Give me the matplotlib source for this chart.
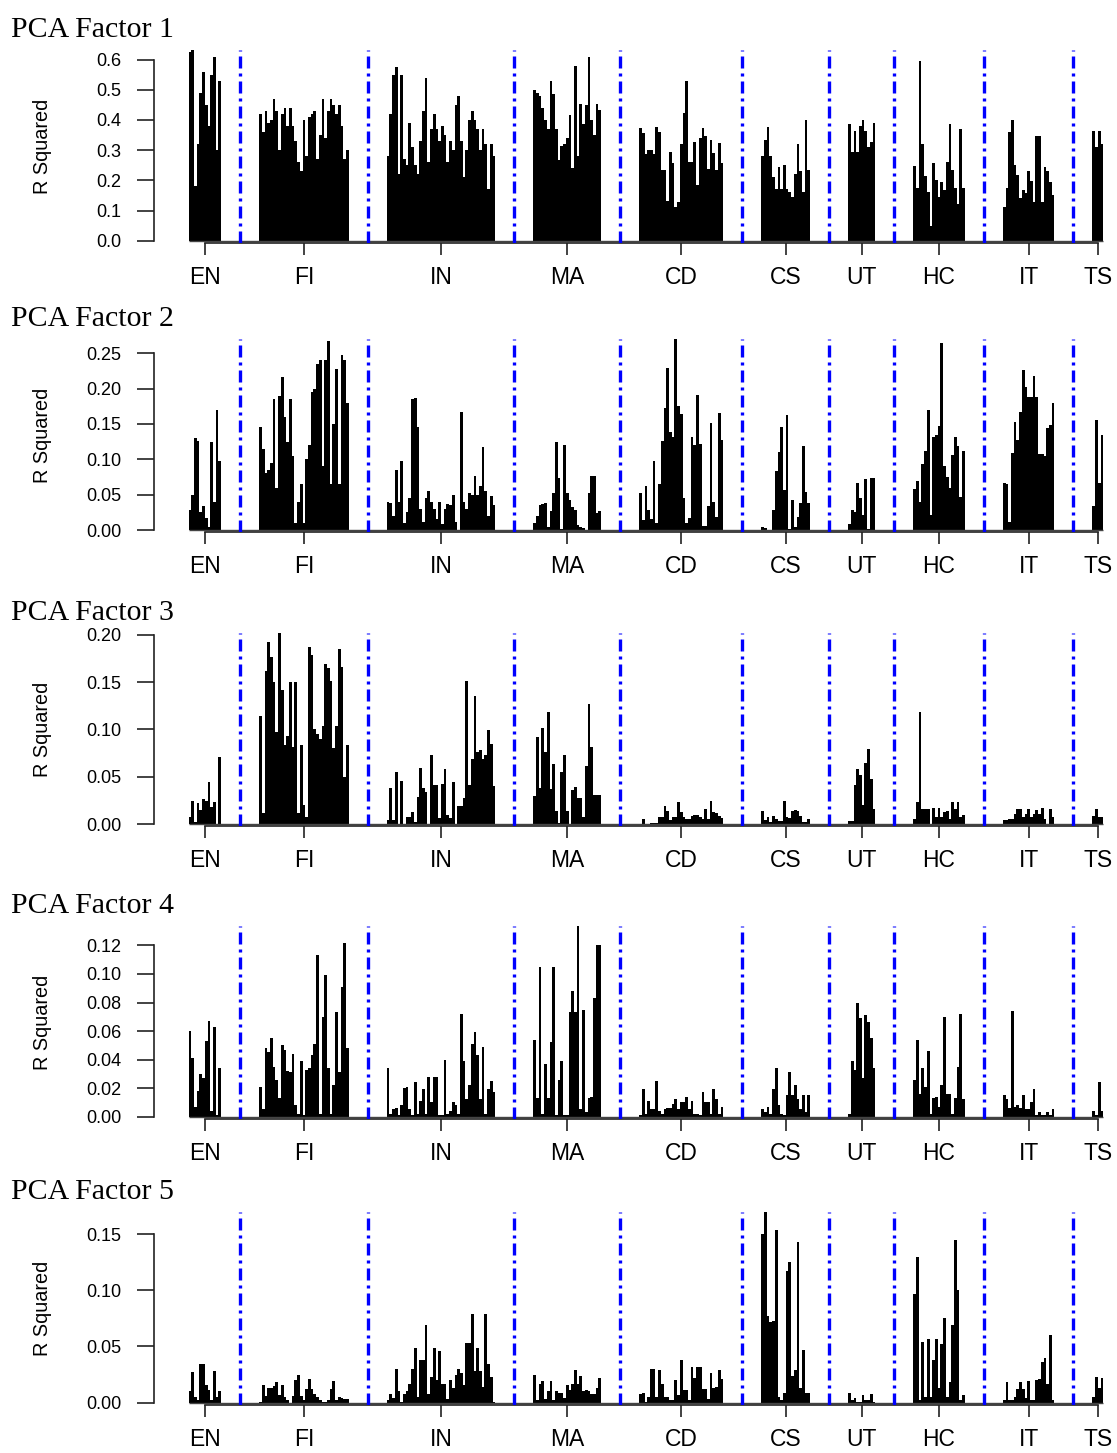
import numpy as np
import matplotlib
matplotlib.use("Agg")
import matplotlib.pyplot as plt

plt.rcParams['font.family'] = ['Liberation Sans', 'DejaVu Sans']

sectors = ["EN", "FI", "IN", "MA", "CD", "CS", "UT", "HC", "IT", "TS"]
titles = ["PCA Factor 1", "PCA Factor 2", "PCA Factor 3", "PCA Factor 4", "PCA Factor 5"]

# R squared of each stock on the factor, one list per sector (same order as sectors)
factor1 = [
    [0.625, 0.633, 0.18, 0.32, 0.49, 0.56, 0.45, 0.38, 0.55, 0.61, 0.30, 0.53],
    [0.42, 0.36, 0.43, 0.39, 0.40, 0.47, 0.43, 0.30, 0.42, 0.44, 0.38, 0.44, 0.38, 0.33, 0.26, 0.23, 0.40,
     0.28, 0.41, 0.42, 0.43, 0.27, 0.35, 0.47, 0.34, 0.43, 0.47, 0.45, 0.42, 0.45, 0.38, 0.27, 0.30],
    [0.28, 0.42, 0.55, 0.575, 0.22, 0.55, 0.27, 0.25, 0.39, 0.31, 0.25, 0.22, 0.33, 0.43, 0.54, 0.26, 0.37,
     0.42, 0.37, 0.33, 0.38, 0.35, 0.26, 0.33, 0.30, 0.45, 0.48, 0.33, 0.21, 0.30, 0.40, 0.43, 0.40, 0.37,
     0.30, 0.37, 0.32, 0.17, 0.32, 0.28],
    [0.50, 0.49, 0.48, 0.44, 0.40, 0.37, 0.53, 0.487, 0.37, 0.267, 0.313, 0.32, 0.34, 0.415, 0.24, 0.58,
     0.28, 0.454, 0.386, 0.449, 0.609, 0.40, 0.35, 0.454, 0.432],
    [0.374, 0.357, 0.287, 0.30, 0.30, 0.287, 0.377, 0.36, 0.234, 0.234, 0.13, 0.294, 0.256, 0.112, 0.127,
     0.32, 0.423, 0.53, 0.26, 0.26, 0.327, 0.184, 0.34, 0.374, 0.346, 0.236, 0.333, 0.29, 0.234, 0.322, 0.256],
    [0.28, 0.335, 0.377, 0.28, 0.21, 0.17, 0.245, 0.17, 0.25, 0.17, 0.16, 0.145, 0.22, 0.32, 0.23, 0.16,
     0.40, 0.235],
    [0.386, 0.294, 0.364, 0.294, 0.38, 0.40, 0.364, 0.31, 0.327, 0.39],
    [0.248, 0.173, 0.595, 0.319, 0.215, 0.162, 0.048, 0.259, 0.20, 0.146, 0.195, 0.168, 0.261, 0.386,
     0.234, 0.176, 0.123, 0.37, 0.176],
    [0.112, 0.173, 0.36, 0.40, 0.25, 0.217, 0.14, 0.168, 0.159, 0.23, 0.198, 0.129, 0.347, 0.347, 0.129,
     0.245, 0.23, 0.195, 0.151],
    [0.365, 0.31, 0.365, 0.32],
]

factor2 = [
    [0.029, 0.05, 0.13, 0.126, 0.025, 0.034, 0.017, 0.005, 0.125, 0.04, 0.17, 0.097],
    [0.145, 0.115, 0.08, 0.085, 0.095, 0.185, 0.06, 0.19, 0.217, 0.16, 0.125, 0.185, 0.105, 0.01, 0.04,
     0.065, 0.01, 0.10, 0.12, 0.195, 0.20, 0.235, 0.24, 0.09, 0.24, 0.267, 0.065, 0.15, 0.228, 0.065,
     0.247, 0.24, 0.18],
    [0.04, 0.038, 0.02, 0.085, 0.04, 0.097, 0.01, 0.025, 0.045, 0.185, 0.187, 0.145, 0.03, 0.012, 0.045,
     0.055, 0.04, 0.03, 0.015, 0.04, 0.008, 0.03, 0.037, 0.035, 0.05, 0.012, 0.0, 0.167, 0.04, 0.03,
     0.053, 0.05, 0.077, 0.05, 0.063, 0.117, 0.055, 0.02, 0.048, 0.035],
    [0.01, 0.02, 0.035, 0.037, 0.038, 0.005, 0.027, 0.053, 0.124, 0.073, 0.001, 0.12, 0.053, 0.043, 0.032,
     0.028, 0.007, 0.005, 0.003, 0.0, 0.053, 0.077, 0.077, 0.024, 0.027],
    [0.052, 0.014, 0.063, 0.029, 0.015, 0.097, 0.01, 0.065, 0.126, 0.172, 0.229, 0.139, 0.132, 0.27, 0.175,
     0.164, 0.046, 0.01, 0.017, 0.131, 0.12, 0.191, 0.122, 0.006, 0.006, 0.034, 0.152, 0.04, 0.018, 0.166,
     0.127],
    [0.005, 0.003, 0.0, 0.0, 0.029, 0.084, 0.111, 0.146, 0.057, 0.163, 0.001, 0.043, 0.005, 0.018, 0.038,
     0.119, 0.054, 0.038],
    [0.008, 0.029, 0.025, 0.067, 0.045, 0.021, 0.072, 0.001, 0.074, 0.074],
    [0.058, 0.07, 0.039, 0.093, 0.112, 0.17, 0.021, 0.131, 0.134, 0.147, 0.265, 0.09, 0.075, 0.06, 0.106,
     0.132, 0.119, 0.047, 0.112],
    [0.066, 0.065, 0.012, 0.109, 0.153, 0.127, 0.167, 0.226, 0.202, 0.188, 0.188, 0.218, 0.188, 0.108,
     0.108, 0.104, 0.144, 0.149, 0.18],
    [0.034, 0.156, 0.067, 0.134],
]

factor3 = [
    [0.008, 0.024, 0.002, 0.022, 0.015, 0.026, 0.024, 0.044, 0.018, 0.023, 0.0, 0.071],
    [0.114, 0.012, 0.162, 0.192, 0.177, 0.15, 0.097, 0.202, 0.142, 0.084, 0.093, 0.15, 0.081, 0.15, 0.012,
     0.084, 0.02, 0.007, 0.187, 0.179, 0.10, 0.095, 0.09, 0.104, 0.169, 0.165, 0.151, 0.08, 0.104, 0.185,
     0.166, 0.05, 0.084],
    [0.004, 0.038, 0.004, 0.055, 0.0, 0.046, 0.0, 0.007, 0.007, 0.013, 0.002, 0.029, 0.059, 0.038, 0.034,
     0.0, 0.073, 0.041, 0.041, 0.006, 0.042, 0.058, 0.01, 0.006, 0.044, 0.0, 0.019, 0.019, 0.028, 0.151,
     0.041, 0.069, 0.135, 0.076, 0.078, 0.069, 0.073, 0.099, 0.085, 0.04],
    [0.03, 0.092, 0.038, 0.102, 0.076, 0.119, 0.037, 0.064, 0.014, 0.001, 0.055, 0.073, 0.014, 0.0, 0.036,
     0.039, 0.028, 0.028, 0.007, 0.061, 0.127, 0.081, 0.031, 0.031, 0.031],
    [0.0, 0.005, 0.0, 0.0, 0.001, 0.001, 0.001, 0.007, 0.007, 0.019, 0.014, 0.004, 0.007, 0.007, 0.023,
     0.013, 0.007, 0.005, 0.005, 0.009, 0.01, 0.01, 0.007, 0.005, 0.016, 0.005, 0.024, 0.013, 0.012, 0.009,
     0.006],
    [0.014, 0.004, 0.008, 0.002, 0.009, 0.005, 0.003, 0.003, 0.024, 0.007, 0.006, 0.014, 0.015, 0.014,
     0.009, 0.002, 0.002, 0.005],
    [0.003, 0.003, 0.041, 0.058, 0.052, 0.02, 0.065, 0.079, 0.048, 0.016],
    [0.005, 0.023, 0.118, 0.016, 0.016, 0.016, 0.0, 0.017, 0.007, 0.017, 0.008, 0.013, 0.014, 0.005, 0.023,
     0.016, 0.023, 0.007, 0.01],
    [0.004, 0.004, 0.005, 0.005, 0.011, 0.016, 0.016, 0.008, 0.011, 0.016, 0.007, 0.011, 0.015, 0.011,
     0.017, 0.005, 0.0, 0.016, 0.007],
    [0.009, 0.016, 0.007, 0.007],
]

factor4 = [
    [0.06, 0.041, 0.007, 0.018, 0.03, 0.027, 0.053, 0.067, 0.004, 0.063, 0.001, 0.034],
    [0.021, 0.005, 0.048, 0.045, 0.055, 0.035, 0.026, 0.013, 0.05, 0.047, 0.032, 0.031, 0.044, 0.008,
     0.002, 0.039, 0.001, 0.033, 0.034, 0.043, 0.051, 0.113, 0.002, 0.07, 0.099, 0.034, 0.002, 0.022,
     0.073, 0.031, 0.091, 0.122, 0.048],
    [0.034, 0.002, 0.005, 0.006, 0.001, 0.008, 0.02, 0.021, 0.005, 0.001, 0.024, 0.002, 0.011, 0.019,
     0.002, 0.028, 0.01, 0.028, 0.028, 0.001, 0.001, 0.04, 0.002, 0.004, 0.01, 0.008, 0.002, 0.072, 0.039,
     0.012, 0.022, 0.051, 0.059, 0.043, 0.012, 0.049, 0.002, 0.019, 0.025, 0.017],
    [0.054, 0.013, 0.105, 0.002, 0.037, 0.013, 0.052, 0.105, 0.001, 0.026, 0.039, 0.001, 0.001, 0.073,
     0.088, 0.073, 0.134, 0.005, 0.075, 0.003, 0.013, 0.014, 0.083, 0.12, 0.12],
    [0.001, 0.019, 0.002, 0.011, 0.005, 0.005, 0.025, 0.004, 0.002, 0.005, 0.006, 0.006, 0.009, 0.012,
     0.005, 0.01, 0.01, 0.014, 0.005, 0.011, 0.002, 0.002, 0.001, 0.017, 0.01, 0.01, 0.002, 0.019, 0.012,
     0.002, 0.007],
    [0.005, 0.003, 0.007, 0.002, 0.019, 0.034, 0.008, 0.002, 0.001, 0.015, 0.031, 0.015, 0.022, 0.012,
     0.005, 0.015, 0.003, 0.015],
    [0.002, 0.039, 0.033, 0.08, 0.069, 0.027, 0.071, 0.066, 0.055, 0.034],
    [0.026, 0.054, 0.016, 0.034, 0.021, 0.046, 0.002, 0.013, 0.014, 0.007, 0.022, 0.07, 0.016, 0.016,
     0.002, 0.013, 0.035, 0.072, 0.012],
    [0.015, 0.012, 0.006, 0.074, 0.007, 0.008, 0.006, 0.015, 0.005, 0.005, 0.01, 0.019, 0.001, 0.003,
     0.001, 0.001, 0.003, 0.001, 0.005],
    [0.004, 0.001, 0.024, 0.004],
]

factor5 = [
    [0.01, 0.027, 0.005, 0.002, 0.034, 0.034, 0.016, 0.011, 0.002, 0.028, 0.005, 0.01],
    [0.001, 0.016, 0.006, 0.013, 0.013, 0.015, 0.018, 0.007, 0.016, 0.005, 0.002, 0.0, 0.006, 0.02, 0.025,
     0.006, 0.002, 0.012, 0.021, 0.012, 0.008, 0.005, 0.002, 0.001, 0.001, 0.002, 0.012, 0.019, 0.002,
     0.005, 0.004, 0.003, 0.003],
    [0.002, 0.008, 0.004, 0.03, 0.01, 0.001, 0.008, 0.01, 0.017, 0.03, 0.049, 0.005, 0.038, 0.038, 0.069,
     0.008, 0.023, 0.049, 0.02, 0.046, 0.017, 0.017, 0.003, 0.02, 0.013, 0.025, 0.03, 0.026, 0.016, 0.053,
     0.053, 0.079, 0.028, 0.049, 0.028, 0.014, 0.079, 0.034, 0.023, 0.001],
    [0.025, 0.002, 0.017, 0.019, 0.003, 0.01, 0.019, 0.002, 0.01, 0.009, 0.009, 0.004, 0.016, 0.011, 0.017,
     0.029, 0.017, 0.024, 0.01, 0.011, 0.01, 0.008, 0.008, 0.013, 0.022],
    [0.008, 0.009, 0.001, 0.005, 0.03, 0.03, 0.005, 0.029, 0.017, 0.005, 0.005, 0.002, 0.002, 0.02, 0.007,
     0.038, 0.011, 0.011, 0.002, 0.032, 0.022, 0.032, 0.032, 0.012, 0.012, 0.003, 0.026, 0.013, 0.014,
     0.029, 0.021],
    [0.15, 0.17, 0.077, 0.072, 0.073, 0.154, 0.005, 0.002, 0.009, 0.117, 0.125, 0.024, 0.029, 0.143, 0.013,
     0.047, 0.009, 0.009],
    [0.009, 0.002, 0.004, 0.001, 0.001, 0.007, 0.002, 0.002, 0.008, 0.001],
    [0.097, 0.13, 0.002, 0.054, 0.005, 0.057, 0.005, 0.038, 0.057, 0.013, 0.052, 0.075, 0.005, 0.018, 0.069,
     0.145, 0.10, 0.002, 0.007],
    [0.002, 0.018, 0.002, 0.002, 0.005, 0.012, 0.018, 0.012, 0.004, 0.019, 0.002, 0.002, 0.02, 0.021, 0.036,
     0.04, 0.017, 0.06, 0.002],
    [0.005, 0.023, 0.013, 0.022],
]

yticks = [
    [0.0, 0.1, 0.2, 0.3, 0.4, 0.5, 0.6],
    [0.0, 0.05, 0.10, 0.15, 0.20, 0.25],
    [0.0, 0.05, 0.10, 0.15, 0.20],
    [0.0, 0.02, 0.04, 0.06, 0.08, 0.10, 0.12],
    [0.0, 0.05, 0.10, 0.15],
]
ytick_fmt = ["%.1f", "%.2f", "%.2f", "%.2f", "%.2f"]

factors = [factor1, factor2, factor3, factor4, factor5]

# layout of the bar slots: sectors separated by an empty gap of bars
GAP = 14
counts = [len(g) for g in factor1]
for f in factors:
    assert [len(g) for g in f] == counts, [len(g) for g in f]
starts = np.concatenate([[0], np.cumsum(np.array(counts[:-1]) + GAP)])
centers = starts + np.array(counts) / 2.0
seps = starts[1:] - GAP / 2.0
total = starts[-1] + counts[-1]
xpos = np.concatenate([s + np.arange(n) for s, n in zip(starts, counts)])

W, H = 1117, 1453
fig = plt.figure(figsize=(W / 100, H / 100), dpi=100)

ax_left = 153.6      # px, y axis line
first_bar = 188.6    # px, left edge of first bar
slot_px = 2.714      # px per bar
ax_h = 193.0
bottoms = [242.6, 532.0, 826.0, 1118.5, 1404.6]

for k, f in enumerate(factors):
    b = bottoms[k]
    ax = fig.add_axes([ax_left / W, 1 - b / H, (W - ax_left) / W, ax_h / H])
    vals = np.concatenate([np.array(g, dtype=float) for g in f])
    ax.bar(xpos, vals, width=1.0, align='edge', color='black', linewidth=0, zorder=2)
    ax.hlines(0, 0, total, color='#444444', lw=1.0, zorder=2)
    for s in seps:
        ax.axvline(s, color='#0000ff', lw=2.4, linestyle=(0, (3.6, 1.5, 0.9, 1.5)),
                   dash_capstyle='butt', zorder=3)
    ymax = vals.max()
    ax.set_ylim(-0.01 * ymax, ymax)
    ax.set_xlim(-(first_bar - ax_left) / slot_px, (W - first_bar) / slot_px)

    for side in ['top', 'right']:
        ax.spines[side].set_visible(False)
    ax.spines['left'].set_bounds(0, yticks[k][-1])
    ax.spines['bottom'].set_bounds(centers[0], centers[-1])
    for side in ['left', 'bottom']:
        ax.spines[side].set_linewidth(1.2)
        ax.spines[side].set_color('#222222')

    ax.set_yticks(yticks[k])
    ax.set_yticklabels([ytick_fmt[k] % v for v in yticks[k]])
    ax.set_xticks(centers)
    ax.set_xticklabels(sectors)
    ax.tick_params(axis='y', length=12, width=1.2, pad=11, labelsize=13, color='#222222')
    ax.tick_params(axis='x', length=8.4, width=1.2, pad=8.5, labelsize=16.5, color='#222222')
    ax.patch.set_visible(False)

    fig.text(11 / W, 1 - (b - ax_h - 13) / H, titles[k], family='Liberation Serif',
             size=21.5, va='baseline', ha='left')
    fig.text(42.9 / W, 1 - (b - ax_h / 2) / H, 'R Squared', rotation=90,
             ha='center', va='center', size=14.3)

fig.savefig('out.png', dpi=100)
